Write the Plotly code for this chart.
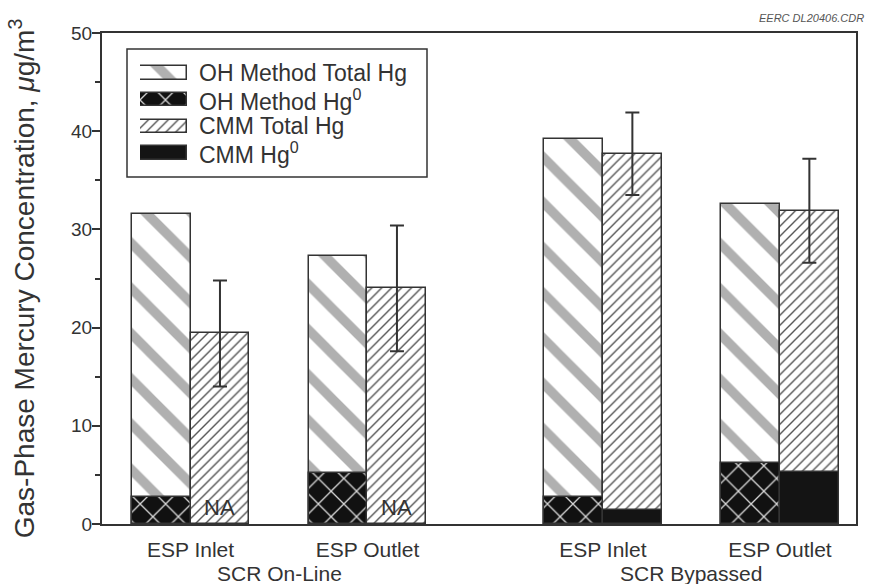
import plotly.graph_objects as go

# ---- data ----
groups = ["SCR On-Line", "SCR Bypassed"]
locations = ["ESP Inlet", "ESP Outlet", "ESP Inlet", "ESP Outlet"]
positions = [1.0, 2.0, 3.33, 4.33]
group_centers = [1.5, 3.83]

oh_total = [31.6, 27.3, 39.2, 32.6]
oh_hg0 = [2.7, 5.2, 2.7, 6.2]
cmm_total = [19.4, 24.0, 37.7, 31.9]
cmm_total_err = [5.4, 6.4, 4.2, 5.3]
cmm_hg0 = [None, None, 1.4, 5.3]
na_label = ["NA", "NA", "", ""]

y_ticks = [0, 10, 20, 30, 40, 50]

series_names = ["OH Method Total Hg", "OH Method Hg<sup>0</sup>",
                "CMM Total Hg", "CMM Hg<sup>0</sup>"]

BAR_W = 0.333
FONT = "Liberation Sans, Arial, sans-serif"
EDGE = "#333333"
TXT = "#333333"

STYLE = {
    "oh_total": dict(color="white", line=dict(color=EDGE, width=1.5),
                     pattern=dict(shape="\\", size=32, solidity=0.3,
                                  fgcolor="#b0b0b0", bgcolor="white", fillmode="replace")),
    "oh_hg0": dict(color="#111111", line=dict(color=EDGE, width=1.5),
                   pattern=dict(shape="x", size=18, solidity=0.14,
                                fgcolor="#d8d8d8", bgcolor="#111111", fillmode="replace")),
    "cmm_total": dict(color="white", line=dict(color=EDGE, width=1.5),
                      pattern=dict(shape="/", size=7, solidity=0.2,
                                   fgcolor="#555555", bgcolor="white", fillmode="replace")),
    "cmm_hg0": dict(color="#141414", line=dict(color=EDGE, width=1.5)),
}
style_keys = ["oh_total", "oh_hg0", "cmm_total", "cmm_hg0"]

oh_x = [p - BAR_W / 2 for p in positions]
cmm_x = [p + BAR_W / 2 for p in positions]

fig = go.Figure()

fig.add_trace(go.Bar(name=series_names[0], x=oh_x, y=oh_total, width=BAR_W,
                     marker=STYLE["oh_total"], showlegend=False))
fig.add_trace(go.Bar(name=series_names[2], x=cmm_x, y=cmm_total, width=BAR_W,
                     error_y=dict(type="data", array=cmm_total_err, visible=True,
                                  color="#333333", thickness=2, width=7),
                     marker=STYLE["cmm_total"], showlegend=False))
fig.add_trace(go.Bar(name=series_names[1], x=oh_x, y=oh_hg0, width=BAR_W,
                     marker=STYLE["oh_hg0"], showlegend=False))
fig.add_trace(go.Bar(name=series_names[3], x=cmm_x, y=cmm_hg0, width=BAR_W,
                     marker=STYLE["cmm_hg0"], showlegend=False))

# ---- legend (drawn as a small key panel) ----
L, R, T, B = 127, 427, 49, 177          # legend box, px
SW_L, SW_R = 140, 187                   # swatch extents, px
PLOT_L, PLOT_R, PLOT_T, PLOT_B = 102, 856, 33, 524
pw, ph = PLOT_R - PLOT_L, PLOT_B - PLOT_T
px_x = lambda v: (v - PLOT_L) / pw
px_y = lambda v: (PLOT_B - v) / ph

fig.add_shape(type="rect", xref="paper", yref="paper",
              x0=px_x(L), x1=px_x(R), y0=px_y(B), y1=px_y(T),
              line=dict(color="#333333", width=1.5), fillcolor="rgba(0,0,0,0)",
              layer="above")

rows = list(range(len(series_names)))
for r, key, name in zip(rows, style_keys, series_names):
    fig.add_trace(go.Bar(x=[1], y=[r], base=[0], orientation="h", width=0.5,
                         marker=STYLE[key], xaxis="x2", yaxis="y2",
                         showlegend=False, hoverinfo="skip"))
    fig.add_annotation(x=px_x(197), y=r, xref="paper", yref="y2", text=name,
                       showarrow=False, xanchor="left", yanchor="middle",
                       font=dict(family=FONT, size=23, color=TXT))

# NA labels
for xv, lab in zip(cmm_x, na_label):
    if lab:
        fig.add_annotation(x=xv, y=1.65, text=lab, showarrow=False,
                           font=dict(family=FONT, size=22, color=TXT))

# group labels
for gc, g in zip(group_centers, groups):
    fig.add_annotation(x=gc, y=0, xref="x", yref="paper", yshift=-49,
                       text=g, showarrow=False, yanchor="middle",
                       font=dict(family=FONT, size=21, color=TXT))

fig.add_annotation(x=1, y=1, xref="paper", yref="paper", xanchor="right", yanchor="bottom",
                   xshift=10, yshift=7, text="<i>EERC DL20406.CDR</i>", showarrow=False,
                   font=dict(family=FONT, size=11, color="#555555"))

fig.update_layout(
    width=869, height=584,
    margin=dict(l=102, r=13, t=33, b=60),
    paper_bgcolor="white", plot_bgcolor="white",
    barmode="overlay",
    font=dict(family=FONT, color=TXT),
    showlegend=False,
    bargap=0,
    xaxis=dict(
        range=[0.5, 4.76], tickvals=positions, ticktext=locations,
        showgrid=False, zeroline=False, showline=True, linecolor="#333333", linewidth=2,
        mirror=True, ticks="", ticklabelstandoff=6,
        tickfont=dict(family=FONT, size=21, color=TXT),
    ),
    yaxis=dict(
        range=[0, 50], tickvals=y_ticks, showgrid=False, zeroline=False,
        showline=True, linecolor="#333333", linewidth=2, mirror=True,
        ticks="outside", ticklen=8, tickwidth=1.5, tickcolor="#333333",
        minor=dict(dtick=5, ticks="outside", ticklen=5, tickwidth=1.5, tickcolor="#333333"),
        ticklabelstandoff=-4,
        tickfont=dict(family=FONT, size=19, color=TXT),
        title=dict(text="Gas-Phase Mercury Concentration, <i>μ</i>g/m<sup>3</sup>",
                   font=dict(family=FONT, size=28, color=TXT), standoff=28),
    ),
    xaxis2=dict(domain=[px_x(SW_L), px_x(SW_R)], range=[0, 1], anchor="y2",
                visible=False, fixedrange=True),
    yaxis2=dict(domain=[px_y(B), px_y(T)], range=[3.9, -0.9], anchor="x2",
                visible=False, fixedrange=True),
)

fig.write_html("out.html", config={"displayModeBar": False},
               post_script="document.body.style.margin='0';")
